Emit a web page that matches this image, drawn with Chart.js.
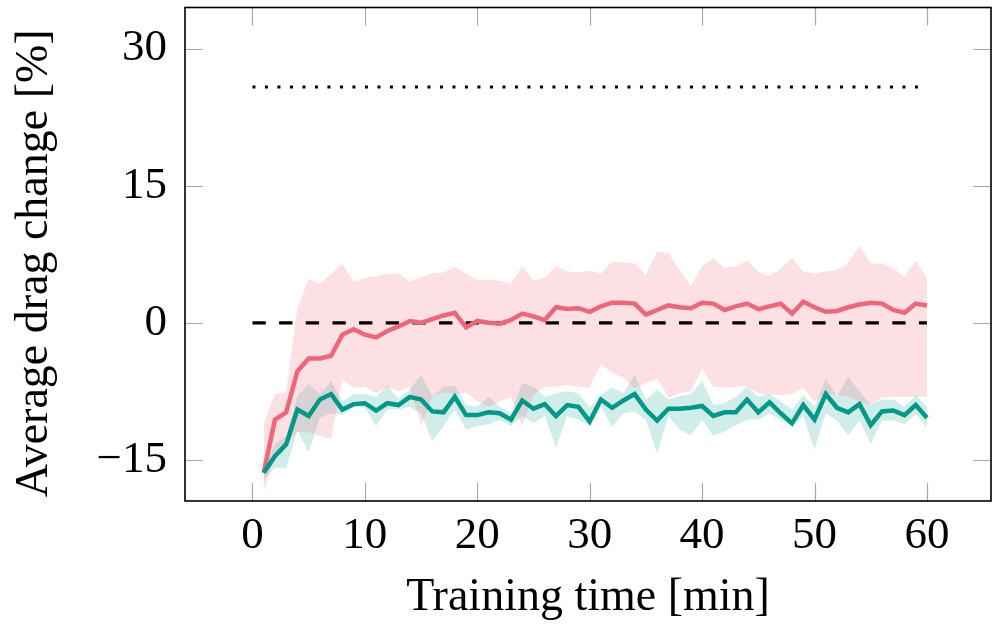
<!DOCTYPE html>
<html><head><meta charset="utf-8">
<script src="https://cdn.jsdelivr.net/npm/chart.js@4.4.1/dist/chart.umd.min.js"></script>
<style>html,body{margin:0;padding:0;background:#fff;}canvas{display:block;}</style>
</head><body>
<canvas id="c" width="995" height="637"></canvas>
<script>
const minutes = [1,2,3,4,5,6,7,8,9,10,11,12,13,14,15,16,17,18,19,20,21,22,23,24,25,26,27,28,29,30,31,32,33,34,35,36,37,38,39,40,41,42,43,44,45,46,47,48,49,50,51,52,53,54,55,56,57,58,59,60];
const redMean = [-16.4,-10.6,-9.8,-5.3,-3.9,-3.9,-3.6,-1.3,-0.7,-1.3,-1.6,-0.9,-0.4,0.2,0.0,0.4,0.8,1.1,-0.5,0.2,0.0,-0.1,0.3,1.0,0.7,0.3,1.7,1.5,1.6,1.2,1.8,2.2,2.2,2.1,0.9,1.4,1.9,1.7,1.6,2.2,2.1,1.4,1.8,2.1,1.5,1.8,2.1,1.0,2.3,1.7,1.2,1.3,1.7,2.0,2.2,2.1,1.4,1.1,2.1,1.9];
const redUpper = [-11.0,-7.8,-7.6,1.6,4.8,4.3,5.3,6.5,4.5,4.9,5.1,5.3,5.4,4.5,5.0,5.4,5.5,6.1,5.4,4.7,4.7,4.6,4.3,6.2,4.6,4.9,6.2,5.6,5.5,5.7,5.4,6.7,6.6,6.5,5.2,7.8,7.6,5.8,4.0,6.2,7.1,6.0,6.2,6.8,5.6,5.1,5.9,7.1,5.6,5.4,5.6,5.8,6.5,8.4,6.5,6.5,6.0,5.0,6.8,4.9];
const redLower = [-18.5,-14.5,-13.2,-11.9,-12.0,-12.4,-12.7,-6.2,-7.1,-7.0,-7.7,-7.0,-7.5,-7.0,-11.3,-8.1,-7.6,-7.9,-7.6,-8.6,-9.2,-8.6,-8.1,-11.3,-7.9,-7.0,-7.0,-6.8,-7.0,-7.1,-4.5,-5.5,-6.0,-7.2,-6.6,-6.1,-8.2,-7.7,-7.5,-5.0,-7.0,-7.1,-7.0,-7.0,-7.7,-7.9,-7.9,-7.8,-7.1,-8.6,-7.7,-7.9,-8.1,-8.6,-9.0,-8.2,-8.1,-8.1,-8.1,-8.1];
const greenMean = [-16.4,-14.6,-13.3,-9.5,-10.2,-8.4,-7.8,-9.5,-8.9,-8.8,-9.6,-8.8,-9.0,-8.1,-8.4,-9.7,-9.8,-8.1,-10.1,-10.1,-9.8,-9.9,-10.6,-8.5,-9.4,-8.9,-10.2,-9.0,-9.2,-10.8,-8.4,-9.3,-8.5,-7.8,-9.5,-10.7,-9.4,-9.4,-9.3,-9.1,-10.2,-9.8,-9.8,-8.4,-9.8,-8.7,-9.9,-11.0,-9.0,-10.6,-7.8,-9.3,-9.8,-8.9,-11.2,-9.7,-9.6,-10.1,-9.0,-10.4];
const greenUpper = [-16.0,-13.3,-12.4,-8.0,-6.7,-7.8,-6.4,-8.6,-7.8,-7.8,-8.1,-6.9,-8.3,-7.3,-5.7,-8.1,-7.0,-6.9,-9.0,-9.2,-8.1,-9.2,-9.9,-6.6,-7.0,-8.1,-7.7,-7.5,-7.7,-9.3,-7.9,-7.1,-7.7,-5.7,-8.4,-7.3,-8.4,-8.0,-7.8,-6.4,-9.0,-8.8,-8.1,-7.0,-8.1,-7.8,-8.6,-9.5,-7.9,-9.2,-6.1,-8.1,-5.9,-7.5,-9.0,-8.4,-8.4,-9.2,-7.9,-9.2];
const greenLower = [-17.2,-15.9,-15.9,-11.8,-14.1,-10.4,-9.9,-10.1,-9.2,-9.3,-11.3,-9.5,-9.5,-9.2,-9.9,-13.0,-11.3,-9.5,-11.7,-11.3,-11.1,-10.6,-11.3,-10.2,-11.0,-10.2,-13.7,-10.2,-10.6,-11.3,-9.2,-11.4,-9.9,-9.7,-10.6,-14.3,-10.2,-11.7,-12.3,-10.6,-12.4,-11.9,-11.2,-10.6,-10.6,-9.9,-10.7,-11.3,-10.2,-13.9,-9.9,-10.7,-12.3,-10.7,-13.2,-10.7,-10.7,-11.1,-10.0,-11.5];
const refSpan = [0, 60];
const zeroLevel = 0;
const upperLevel = 25.8;
const xTicks = [0,10,20,30,40,50,60];
const yTicks = [-15,0,15,30];
const xTitle = 'Training time [min]';
const yTitle = 'Average drag change [%]';

const pts = arr => minutes.map((m,i)=>({x:m,y:arr[i]}));
const flat = v => refSpan.map(x=>({x:x,y:v}));
const RED = '#EE6677', TEAL = '#009988';
const none = 'rgba(0,0,0,0)';
const FONT = "'Liberation Serif', 'Times New Roman', serif";

const framePlugin = {
  id: 'frame',
  beforeDraw(chart) {
    const s = chart.scales.y;
    if (s && !s._titleShifted) {
      const orig = s.drawTitle.bind(s);
      s.drawTitle = function() { this.ctx.save(); this.ctx.translate(0, 9); orig(); this.ctx.restore(); };
      s._titleShifted = true;
    }
  },
  afterDraw(chart) {
    const {ctx, chartArea: a, scales} = chart;
    ctx.save();
    ctx.strokeStyle = '#a8a8a8';
    ctx.lineWidth = 1.2;
    const L = 18;
    ctx.beginPath();
    xTicks.forEach(v => {
      const px = Math.round(scales.x.getPixelForValue(v)) + 0.5;
      ctx.moveTo(px, a.bottom); ctx.lineTo(px, a.bottom - L);
      ctx.moveTo(px, a.top); ctx.lineTo(px, a.top + L);
    });
    yTicks.forEach(v => {
      const py = Math.round(scales.y.getPixelForValue(v)) + 0.5;
      ctx.moveTo(a.left, py); ctx.lineTo(a.left + L, py);
      ctx.moveTo(a.right, py); ctx.lineTo(a.right - L, py);
    });
    ctx.stroke();
    ctx.strokeStyle = '#000';
    ctx.lineWidth = 1.6;
    ctx.strokeRect(a.left, a.top, a.right - a.left, a.bottom - a.top);
    ctx.restore();
  }
};

new Chart(document.getElementById('c'), {
  type: 'line',
  data: {
    datasets: [
      {data: pts(greenMean), borderColor: TEAL, borderWidth: 4.5, pointRadius: 0, fill: false, borderJoinStyle: 'miter', tension: 0},
      {data: pts(redMean), borderColor: RED, borderWidth: 4.5, pointRadius: 0, fill: false, borderJoinStyle: 'miter', tension: 0},
      {data: flat(zeroLevel), borderColor: '#000', borderWidth: 3.2, borderDash: [13.33, 13.33], pointRadius: 0, fill: false},
      {data: flat(upperLevel), borderColor: '#000', borderWidth: 3, borderDash: [3, 9.5], pointRadius: 0, fill: false},
      {data: pts(redUpper), borderColor: none, borderWidth: 0, pointRadius: 0, fill: {target: 5}, backgroundColor: 'rgba(238,102,119,0.2)'},
      {data: pts(redLower), borderColor: none, borderWidth: 0, pointRadius: 0, fill: false},
      {data: pts(greenUpper), borderColor: none, borderWidth: 0, pointRadius: 0, fill: {target: 7}, backgroundColor: 'rgba(0,153,136,0.18)'},
      {data: pts(greenLower), borderColor: none, borderWidth: 0, pointRadius: 0, fill: false}
    ]
  },
  options: {
    responsive: false,
    devicePixelRatio: 1,
    animation: false,
    layout: {padding: {left: 0, right: 4, top: 7.5, bottom: 0}},
    plugins: {
      legend: {display: false},
      tooltip: {enabled: false},
      filler: {drawTime: 'beforeDatasetsDraw'}
    },
    scales: {
      x: {
        type: 'linear', min: -6, max: 65.7,
        afterFit: s => { s.height = 136; s.paddingLeft = 0; s.paddingRight = 0; },
        afterBuildTicks: s => { s.ticks = xTicks.map(v => ({value: v})); },
        grid: {display: false, drawTicks: false},
        border: {display: false},
        ticks: {color: '#000', font: {family: FONT, size: 45}, padding: 8, maxRotation: 0, minRotation: 0, autoSkip: false,
                callback: v => String(v).replace('-', '\u2212')},
        title: {display: true, text: xTitle, color: '#000', font: {family: FONT, size: 46}, padding: {top: 0, bottom: 11}}
      },
      y: {
        type: 'linear', min: -19.5, max: 34.5,
        afterFit: s => { s.width = 185; s.paddingTop = 0; s.paddingBottom = 0; },
        afterBuildTicks: s => { s.ticks = yTicks.map(v => ({value: v})); },
        grid: {display: false, drawTicks: false},
        border: {display: false},
        ticks: {color: '#000', font: {family: FONT, size: 45}, padding: 18, autoSkip: false,
                callback: v => String(v).replace('-', '\u2212')},
        title: {display: true, text: yTitle, color: '#000', font: {family: FONT, size: 46}, padding: {top: 7, bottom: 0}}
      }
    }
  },
  plugins: [framePlugin]
});
</script>
</body></html>
